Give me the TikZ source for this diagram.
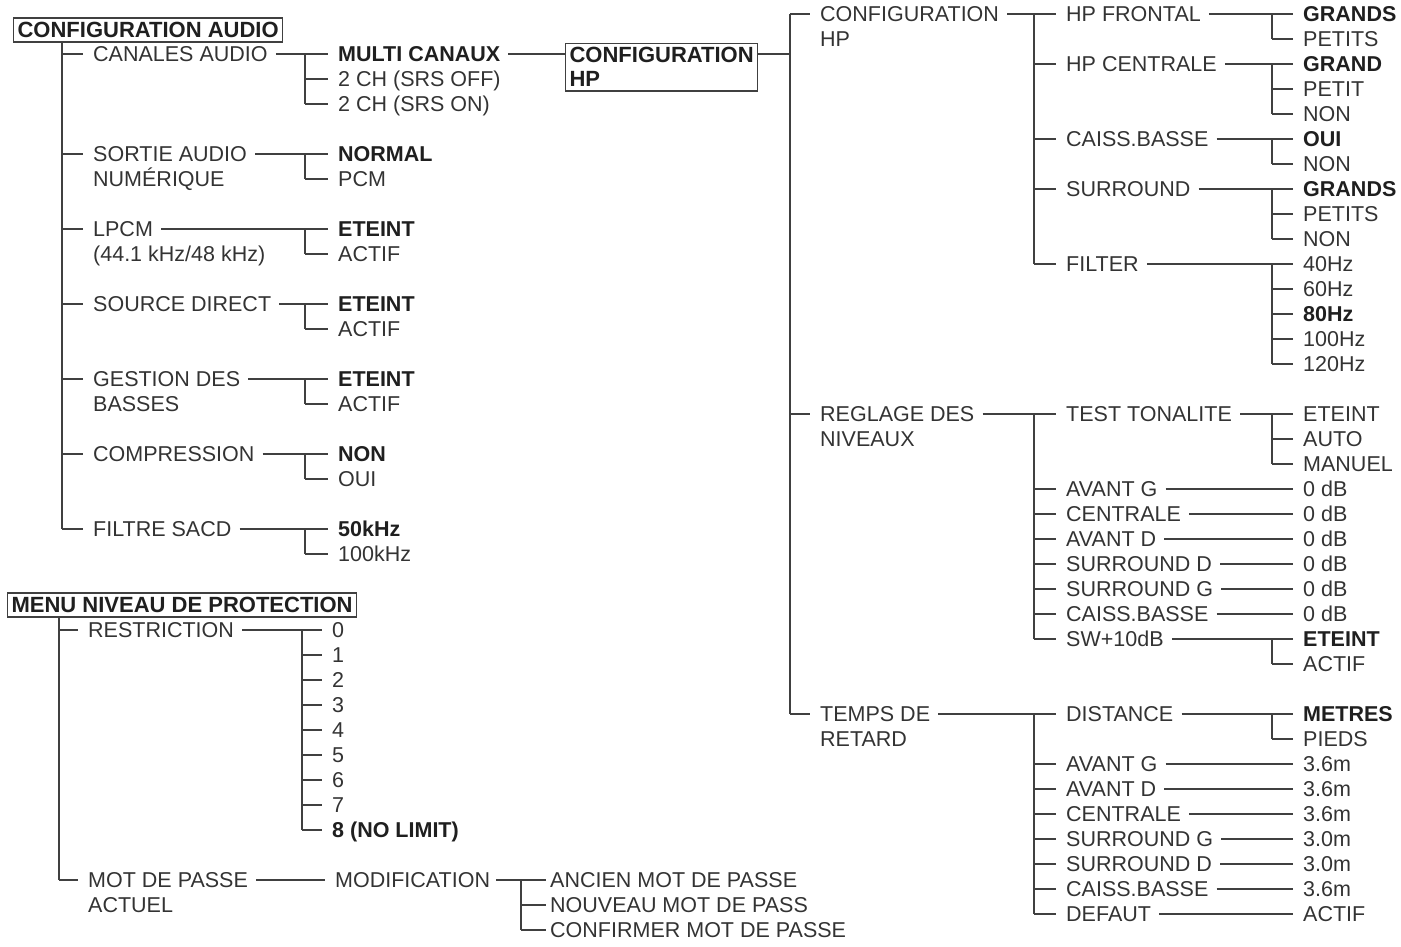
\documentclass[tikz,border=0pt]{standalone}
\usepackage{fontspec}
\setmainfont{Liberation Sans}
\definecolor{txt}{gray}{0.2}
\definecolor{btxt}{gray}{0.12}
\definecolor{lin}{gray}{0.25}
\newcommand\rg{\fontsize{21.5}{25}\selectfont}
\newcommand\bd{\fontsize{21.5}{25}\selectfont\bfseries}
\newcommand\bdb{\fontsize{22}{24}\selectfont\bfseries}
\newcommand\tx[4][t]{\node[#1] (#2) at (#3) {#4};}
\newcommand\mytick[2]{\draw[ln] (#1 |- #2) -- ([xshift=-10pt]#2.west);}
\newcommand\myhl[2]{\draw[ln] ([xshift=8pt]#1.east) -- ([xshift=-10pt]#2.west);}
\newcommand\myvl[3]{\draw[ln] (#1 |- #2) -- (#1 |- #3);}
\begin{document}
\begin{tikzpicture}[x=1pt,y=-1pt,
  t/.style={anchor=west, inner sep=0pt, text height=15.4pt, text depth=0pt, font=\rg, text=txt},
  b/.style={t, font=\bd, text=btxt},
  hbox/.style={draw=lin, line width=1.2pt, anchor=west, inner xsep=4pt, inner ysep=4.3pt,
    text height=15.4pt, text depth=0pt, font=\bdb, text=btxt},
  ln/.style={draw=lin, line width=1.2pt}]
\useasboundingbox (0,0) rectangle (1401,946);
% coordinates of vertical lines
\coordinate (tA) at (62,0);
\coordinate (vA) at (305,0);
\coordinate (vR) at (790,0);
\coordinate (vS) at (1034,0);
\coordinate (vT) at (1272,0);
\coordinate (vB) at (59,0);
\coordinate (vC) at (302,0);
\coordinate (vD) at (521,0);

% ===== CONFIGURATION AUDIO =====
\node[hbox] (ca) at (13,30) {CONFIGURATION AUDIO};
\tx{ca1}{93,54}{CANALES AUDIO}
\tx{sa}{93,154}{SORTIE AUDIO}
\tx{sa2}{93,179}{NUMÉRIQUE}
\tx{lp}{93,229}{LPCM}
\tx{lp2}{93,254}{(44.1 kHz/48 kHz)}
\tx{sd}{93,304}{SOURCE DIRECT}
\tx{gd}{93,379}{GESTION DES}
\tx{gd2}{93,404}{BASSES}
\tx{co}{93,454}{COMPRESSION}
\tx{fs}{93,529}{FILTRE SACD}
\draw[ln] (tA |- ca.south) -- (tA |- fs);
\foreach \n in {ca1,sa,lp,sd,gd,co,fs}{\mytick{tA}{\n}}

\tx[b]{mc}{338,54}{MULTI CANAUX}
\tx{c2a}{338,79}{2 CH (SRS OFF)}
\tx{c2b}{338,104}{2 CH (SRS ON)}
\myhl{ca1}{mc}\myvl{vA}{mc}{c2b}\mytick{vA}{c2a}\mytick{vA}{c2b}

\tx[b]{nor}{338,154}{NORMAL}
\tx{pcm}{338,179}{PCM}
\myhl{sa}{nor}\myvl{vA}{nor}{pcm}\mytick{vA}{pcm}

\tx[b]{e1}{338,229}{ETEINT}
\tx{a1}{338,254}{ACTIF}
\myhl{lp}{e1}\myvl{vA}{e1}{a1}\mytick{vA}{a1}

\tx[b]{e2}{338,304}{ETEINT}
\tx{a2}{338,329}{ACTIF}
\myhl{sd}{e2}\myvl{vA}{e2}{a2}\mytick{vA}{a2}

\tx[b]{e3}{338,379}{ETEINT}
\tx{a3}{338,404}{ACTIF}
\myhl{gd}{e3}\myvl{vA}{e3}{a3}\mytick{vA}{a3}

\tx[b]{nn}{338,454}{NON}
\tx{oui}{338,479}{OUI}
\myhl{co}{nn}\myvl{vA}{nn}{oui}\mytick{vA}{oui}

\tx[b]{k50}{338,529}{50kHz}
\tx{k100}{338,554}{100kHz}
\myhl{fs}{k50}\myvl{vA}{k50}{k100}\mytick{vA}{k100}

% ===== CONFIGURATION HP box =====
\node[draw=lin, line width=1.2pt, anchor=north west, align=left, inner xsep=4pt, inner ysep=4pt,
  font=\bdb, text=btxt] (chp) at (565,43) {CONFIGURATION\\HP};
\draw[ln] ([xshift=8pt]mc.east) -- (mc -| chp.west);
\draw[ln] (mc -| chp.east) -- (mc -| vR);

% ===== right side =====
\tx{cfg}{820,14}{CONFIGURATION}
\tx{cfg2}{820,39}{HP}
\tx{rg}{820,414}{REGLAGE DES}
\tx{rg2}{820,439}{NIVEAUX}
\tx{tr}{820,714}{TEMPS DE}
\tx{tr2}{820,739}{RETARD}
\myvl{vR}{cfg}{tr}
\foreach \n in {cfg,rg,tr}{\mytick{vR}{\n}}

% CONFIGURATION HP subtree
\tx{hf}{1066,14}{HP FRONTAL}
\tx{hc}{1066,64}{HP CENTRALE}
\tx{cb}{1066,139}{CAISS.BASSE}
\tx{su}{1066,189}{SURROUND}
\tx{fi}{1066,264}{FILTER}
\myhl{cfg}{hf}\myvl{vS}{hf}{fi}
\foreach \n in {hc,cb,su,fi}{\mytick{vS}{\n}}

\tx[b]{g1}{1303,14}{GRANDS}
\tx{p1}{1303,39}{PETITS}
\myhl{hf}{g1}\myvl{vT}{g1}{p1}\mytick{vT}{p1}

\tx[b]{g2}{1303,64}{GRAND}
\tx{p2}{1303,89}{PETIT}
\tx{n2}{1303,114}{NON}
\myhl{hc}{g2}\myvl{vT}{g2}{n2}\mytick{vT}{p2}\mytick{vT}{n2}

\tx[b]{o3}{1303,139}{OUI}
\tx{n3}{1303,164}{NON}
\myhl{cb}{o3}\myvl{vT}{o3}{n3}\mytick{vT}{n3}

\tx[b]{g4}{1303,189}{GRANDS}
\tx{p4}{1303,214}{PETITS}
\tx{n4}{1303,239}{NON}
\myhl{su}{g4}\myvl{vT}{g4}{n4}\mytick{vT}{p4}\mytick{vT}{n4}

\tx{f40}{1303,264}{40Hz}
\tx{f60}{1303,289}{60Hz}
\tx[b]{f80}{1303,314}{80Hz}
\tx{f100}{1303,339}{100Hz}
\tx{f120}{1303,364}{120Hz}
\myhl{fi}{f40}\myvl{vT}{f40}{f120}
\foreach \n in {f60,f80,f100,f120}{\mytick{vT}{\n}}

% REGLAGE DES NIVEAUX subtree
\tx{tt}{1066,414}{TEST TONALITE}
\tx{lag}{1066,489}{AVANT G}
\tx{lce}{1066,514}{CENTRALE}
\tx{lad}{1066,539}{AVANT D}
\tx{lsd}{1066,564}{SURROUND D}
\tx{lsg}{1066,589}{SURROUND G}
\tx{lcb}{1066,614}{CAISS.BASSE}
\tx{lsw}{1066,639}{SW+10dB}
\myhl{rg}{tt}\myvl{vS}{tt}{lsw}
\foreach \n in {lag,lce,lad,lsd,lsg,lcb,lsw}{\mytick{vS}{\n}}

\tx{te}{1303,414}{ETEINT}
\tx{tau}{1303,439}{AUTO}
\tx{tma}{1303,464}{MANUEL}
\myhl{tt}{te}\myvl{vT}{te}{tma}\mytick{vT}{tau}\mytick{vT}{tma}

\tx{d1}{1303,489}{0 dB}
\tx{d2}{1303,514}{0 dB}
\tx{d3}{1303,539}{0 dB}
\tx{d4}{1303,564}{0 dB}
\tx{d5}{1303,589}{0 dB}
\tx{d6}{1303,614}{0 dB}
\myhl{lag}{d1}\myhl{lce}{d2}\myhl{lad}{d3}\myhl{lsd}{d4}\myhl{lsg}{d5}\myhl{lcb}{d6}

\tx[b]{swe}{1303,639}{ETEINT}
\tx{swa}{1303,664}{ACTIF}
\myhl{lsw}{swe}\myvl{vT}{swe}{swa}\mytick{vT}{swa}

% TEMPS DE RETARD subtree
\tx{di}{1066,714}{DISTANCE}
\tx{tag}{1066,764}{AVANT G}
\tx{tad}{1066,789}{AVANT D}
\tx{tce}{1066,814}{CENTRALE}
\tx{tsg}{1066,839}{SURROUND G}
\tx{tsd}{1066,864}{SURROUND D}
\tx{tcb}{1066,889}{CAISS.BASSE}
\tx{tde}{1066,914}{DEFAUT}
\myhl{tr}{di}\myvl{vS}{di}{tde}
\foreach \n in {tag,tad,tce,tsg,tsd,tcb,tde}{\mytick{vS}{\n}}

\tx[b]{me}{1303,714}{METRES}
\tx{pi}{1303,739}{PIEDS}
\myhl{di}{me}\myvl{vT}{me}{pi}\mytick{vT}{pi}

\tx{m1}{1303,764}{3.6m}
\tx{m2}{1303,789}{3.6m}
\tx{m3}{1303,814}{3.6m}
\tx{m4}{1303,839}{3.0m}
\tx{m5}{1303,864}{3.0m}
\tx{m6}{1303,889}{3.6m}
\tx{m7}{1303,914}{ACTIF}
\myhl{tag}{m1}\myhl{tad}{m2}\myhl{tce}{m3}\myhl{tsg}{m4}\myhl{tsd}{m5}\myhl{tcb}{m6}\myhl{tde}{m7}

% ===== MENU NIVEAU DE PROTECTION =====
\node[hbox] (mn) at (7,605) {MENU NIVEAU DE PROTECTION};
\tx{re}{88,630}{RESTRICTION}
\tx{mp}{88,880}{MOT DE PASSE}
\tx{mp2}{88,905}{ACTUEL}
\draw[ln] (vB |- mn.south) -- (vB |- mp);
\mytick{vB}{re}\mytick{vB}{mp}

\tx{r0}{332,630}{0}
\tx{r1}{332,655}{1}
\tx{r2}{332,680}{2}
\tx{r3}{332,705}{3}
\tx{r4}{332,730}{4}
\tx{r5}{332,755}{5}
\tx{r6}{332,780}{6}
\tx{r7}{332,805}{7}
\tx[b]{r8}{332,830}{8 (NO LIMIT)}
\myhl{re}{r0}\myvl{vC}{r0}{r8}
\foreach \n in {r1,r2,r3,r4,r5,r6,r7,r8}{\mytick{vC}{\n}}

\tx{mo}{335,880}{MODIFICATION}
\draw[ln] ([xshift=8pt]mp.east) -- ([xshift=-10pt]mo.west);
\tx{an}{550,880}{ANCIEN MOT DE PASSE}
\tx{nv}{550,905}{NOUVEAU MOT DE PASS}
\tx{cf}{550,930}{CONFIRMER MOT DE PASSE}
\draw[ln] ([xshift=6pt]mo.east) -- ([xshift=-4pt]an.west);
\myvl{vD}{an}{cf}
\draw[ln] (vD |- nv) -- ([xshift=-4pt]nv.west);
\draw[ln] (vD |- cf) -- ([xshift=-4pt]cf.west);
\end{tikzpicture}
\end{document}
